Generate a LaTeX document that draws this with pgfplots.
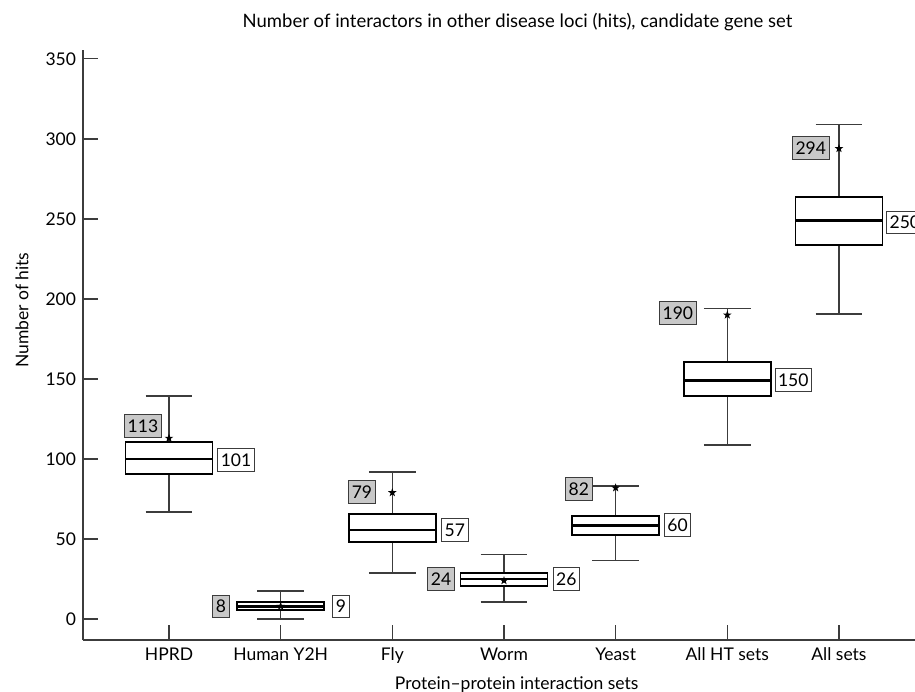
\documentclass[border=0pt]{standalone}
\usepackage{fontspec}
\setmainfont{Lato}
\usepackage{pgfplots}
\pgfplotsset{compat=1.18}

\definecolor{axisgray}{HTML}{3C3C3C}
\definecolor{labelgray}{HTML}{C8C8C8}

\pgfdeclareplotmark{fstar}{%
  \pgfpathmoveto{\pgfpointpolar{90}{\pgfplotmarksize}}%
  \pgfpathlineto{\pgfpointpolar{126}{0.4\pgfplotmarksize}}%
  \pgfpathlineto{\pgfpointpolar{162}{\pgfplotmarksize}}%
  \pgfpathlineto{\pgfpointpolar{198}{0.4\pgfplotmarksize}}%
  \pgfpathlineto{\pgfpointpolar{234}{\pgfplotmarksize}}%
  \pgfpathlineto{\pgfpointpolar{270}{0.4\pgfplotmarksize}}%
  \pgfpathlineto{\pgfpointpolar{306}{\pgfplotmarksize}}%
  \pgfpathlineto{\pgfpointpolar{342}{0.4\pgfplotmarksize}}%
  \pgfpathlineto{\pgfpointpolar{18}{\pgfplotmarksize}}%
  \pgfpathlineto{\pgfpointpolar{54}{0.4\pgfplotmarksize}}%
  \pgfpathclose
  \pgfusepathqfill}

\tikzset{
  lbl/.style={draw=axisgray, line width=0.8bp, inner xsep=3bp, inner ysep=5bp,
              text height=12.5bp, text depth=0bp},
  glbl/.style={lbl, fill=labelgray},
  wlbl/.style={lbl, fill=white},
}

% box: position, lower whisker, lower quartile, median, upper quartile, upper whisker
\newcommand{\hitbox}[6]{%
  \addplot[axisgray, line width=1.4bp] coordinates {(#1,#2) (#1,#3)};
  \addplot[axisgray, line width=1.4bp] coordinates {(#1,#5) (#1,#6)};
  \addplot[axisgray, line width=1.4bp] coordinates {(#1-0.21,#2) (#1+0.21,#2)};
  \addplot[axisgray, line width=1.4bp] coordinates {(#1-0.21,#6) (#1+0.21,#6)};
  \addplot[black, fill=white, line width=1.8bp, line join=miter]
    coordinates {(#1-0.39,#3) (#1+0.39,#3) (#1+0.39,#5) (#1-0.39,#5)} -- cycle;
  \addplot[black, line width=2.8bp] coordinates {(#1-0.39,#4) (#1+0.39,#4)};
}

\begin{document}
\fontsize{17.5bp}{21bp}\selectfont
\begin{tikzpicture}
\begin{axis}[
    at={(0,0)}, anchor=south west,
    scale only axis,
    width=852bp, height=590bp,
    xmin=0.23, xmax=7.86,
    ymin=-13.1, ymax=355.6,
    axis lines*=left,
    axis line style={axisgray, line width=1.2bp},
    tick style={axisgray, line width=1.1bp},
    tick align=inside,
    major tick length=15bp,
    xtick={1,...,7},
    xticklabels={HPRD, Human Y2H, Fly, Worm, Yeast, All HT sets, All sets},
    ytick={0,50,...,350},
    /pgf/number format/assume math mode=true,
    yticklabel style={xshift=-1bp},
    xticklabel style={yshift=-2bp},
    title={Number of interactors in other disease loci (hits), candidate gene set},
    title style={at={(0.51,1.037)}, anchor=center, yshift=0pt,
                 font=\fontsize{18.5bp}{22bp}\selectfont},
    xlabel={Protein--protein interaction sets},
    xlabel style={at={(0.509,-0.075)}, anchor=center},
    ylabel={Number of hits},
    ylabel style={at={(-0.0716,0.559)}, anchor=center},
    clip=false,
]

\hitbox{1}{66.9}{90.6}{100}{110.6}{139.4}   % HPRD
\hitbox{2}{0}{5.6}{7.9}{10.8}{17.5}         % Human Y2H
\hitbox{3}{28.8}{48.1}{55.6}{65.6}{91.9}    % Fly
\hitbox{4}{10.6}{20.4}{25}{28.9}{40.2}      % Worm
\hitbox{5}{36.7}{52.5}{58.3}{64.6}{83.1}    % Yeast
\hitbox{6}{108.8}{139.4}{149.2}{160.8}{193.9} % All HT sets
\hitbox{7}{190.6}{233.8}{249.2}{263.9}{308.9} % All sets

% observed values (stars)
\addplot[only marks, mark=fstar, mark size=4.5bp, black] coordinates {
    (1,113) (2,8) (3,79) (4,24) (5,82) (6,190) (7,294)
};

% observed value labels
\node[glbl] at (0.767,120.6) {113};
\node[glbl] at (1.465,8) {8};
\node[glbl] at (2.728,79.4) {79};
\node[glbl] at (3.436,25) {24};
\node[glbl] at (4.67,81.3) {82};
\node[glbl] at (5.557,191.3) {190};
\node[glbl] at (6.747,294.4) {294};

% median labels
\node[wlbl] at (1.6,99.4) {101};
\node[wlbl] at (2.54,8) {9};
\node[wlbl] at (3.56,55.6) {57};
\node[wlbl] at (4.558,25) {26};
\node[wlbl] at (5.555,58.8) {60};
\node[wlbl] at (6.591,149.4) {150};
\node[wlbl] at (7.59,248) {250};
\end{axis}
\pgfresetboundingbox
\useasboundingbox (-83bp,-52bp) rectangle (832bp,640bp);
\end{tikzpicture}
\end{document}
